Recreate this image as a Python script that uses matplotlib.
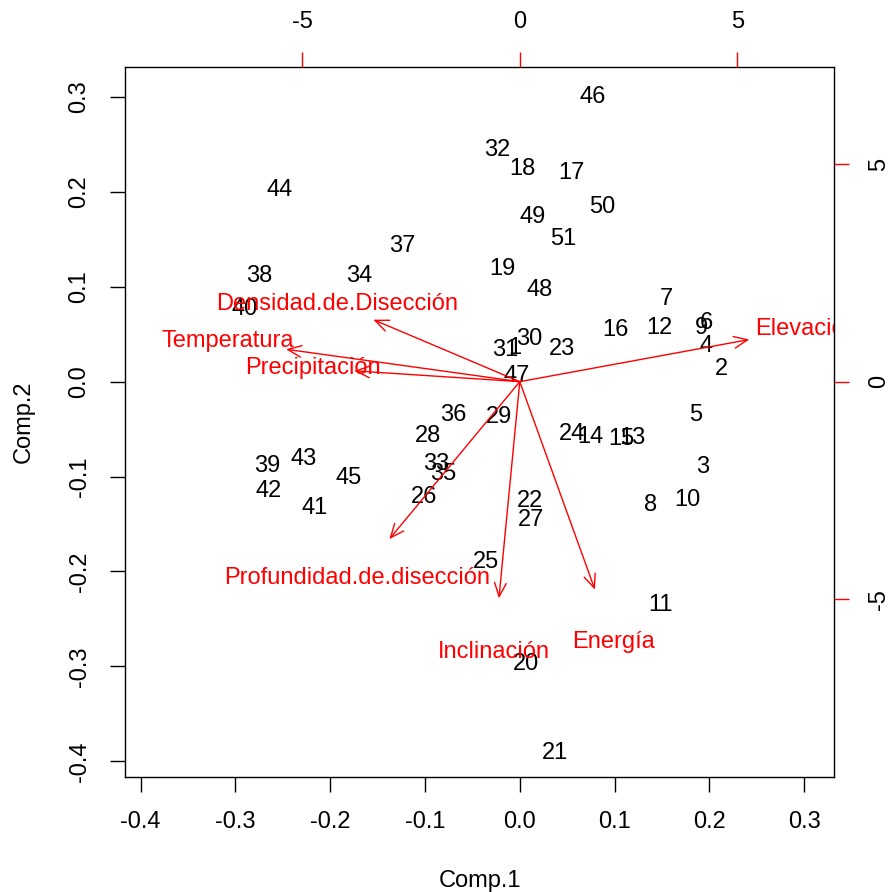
import numpy as np
import matplotlib.pyplot as plt

plt.rcParams['font.family'] = ['Liberation Sans', 'DejaVu Sans']
plt.rcParams['axes.unicode_minus'] = False

# scores (Comp.1, Comp.2) of the 51 observations
obs = [str(i) for i in range(1, 52)]
comp1 = [-0.005, 0.213, 0.193, 0.196, 0.186, 0.197, 0.155, 0.138, 0.192, 0.177,
         0.148, 0.147, 0.119, 0.074, 0.107, 0.101, 0.054, 0.003, -0.018, 0.007,
         0.037, 0.011, 0.045, 0.055, -0.036, -0.101, 0.012, -0.097, -0.022, 0.010,
         -0.015, -0.024, -0.088, -0.169, -0.081, -0.070, -0.124, -0.275, -0.267, -0.290,
         -0.216, -0.265, -0.228, -0.253, -0.181, 0.077, -0.003, 0.021, 0.014, 0.087,
         0.046]
comp2 = [0.035, 0.013, -0.090, 0.038, -0.035, 0.062, 0.087, -0.130, 0.057, -0.125,
         -0.235, 0.057, -0.059, -0.058, -0.060, 0.054, 0.220, 0.224, 0.119, -0.297,
         -0.391, -0.126, 0.034, -0.055, -0.190, -0.121, -0.146, -0.057, -0.037, 0.045,
         0.033, 0.244, -0.087, 0.111, -0.097, -0.035, 0.143, 0.111, -0.089, 0.077,
         -0.133, -0.115, -0.081, 0.202, -0.101, 0.300, 0.006, 0.097, 0.173, 0.184,
         0.150]

# loadings
variables = ['Elevación', 'Densidad.de.Disección', 'Temperatura', 'Precipitación',
             'Profundidad.de.disección', 'Inclinación', 'Energía']
load1 = [6.6, -4.21, -6.72, -4.76, -3.75, -0.60, 2.16]
load2 = [1.21, 1.78, 0.93, 0.31, -4.52, -6.22, -5.97]

lim = (-0.4165, 0.3315)
ratio = 21.8
main_ticks = [-0.4, -0.3, -0.2, -0.1, 0.0, 0.1, 0.2, 0.3]
main_labels = ['-0.4', '-0.3', '-0.2', '-0.1', '0.0', '0.1', '0.2', '0.3']
sec_ticks = [-5, 0, 5]
sec_labels = ['-5', '0', '5']
fs = 17

fig = plt.figure(figsize=(8.9, 8.92), dpi=100)
pos = [125 / 890, 115 / 892, 709 / 890, 710 / 892]
ax = fig.add_axes(pos)
for lab, x, y in zip(obs, comp1, comp2):
    ax.text(x, y, lab, ha='center', va='center', fontsize=fs, color='black')
ax.set_xlim(lim)
ax.set_ylim(lim)
ax.set_xticks(main_ticks)
ax.set_xticklabels(main_labels)
ax.set_yticks(main_ticks)
ax.set_yticklabels(main_labels, rotation=90, va='center')
ax.tick_params(direction='out', length=10.8, width=1, labelsize=fs, pad=14)
ax.set_xlabel('Comp.1', fontsize=fs, labelpad=26)
ax.set_ylabel('Comp.2', fontsize=fs, labelpad=24)
for s in ax.spines.values():
    s.set_linewidth(1)

ax2 = fig.add_axes(pos, frameon=False)
ax2.patch.set_visible(False)
ax2.set_xlim(lim[0] * ratio, lim[1] * ratio)
ax2.set_ylim(lim[0] * ratio, lim[1] * ratio)
ax2.xaxis.tick_top()
ax2.yaxis.tick_right()
ax2.set_xticks(sec_ticks)
ax2.set_xticklabels(sec_labels)
ax2.set_yticks(sec_ticks)
ax2.set_yticklabels(sec_labels, rotation=90, va='center')
ax2.tick_params(direction='out', length=10.8, width=1, labelsize=fs, pad=14, color='red')

for name, x, y in zip(variables, load1, load2):
    ax2.annotate('', xy=(0.8 * x, 0.8 * y), xytext=(0, 0),
                 arrowprops=dict(arrowstyle='->,head_length=0.7,head_width=0.3',
                                 color='red', lw=1, shrinkA=0, shrinkB=0,
                                 mutation_scale=14))
    ax2.text(x, y, name, color='red', ha='center', va='center', fontsize=fs,
             clip_on=True)

fig.savefig('out.png', dpi=100)
